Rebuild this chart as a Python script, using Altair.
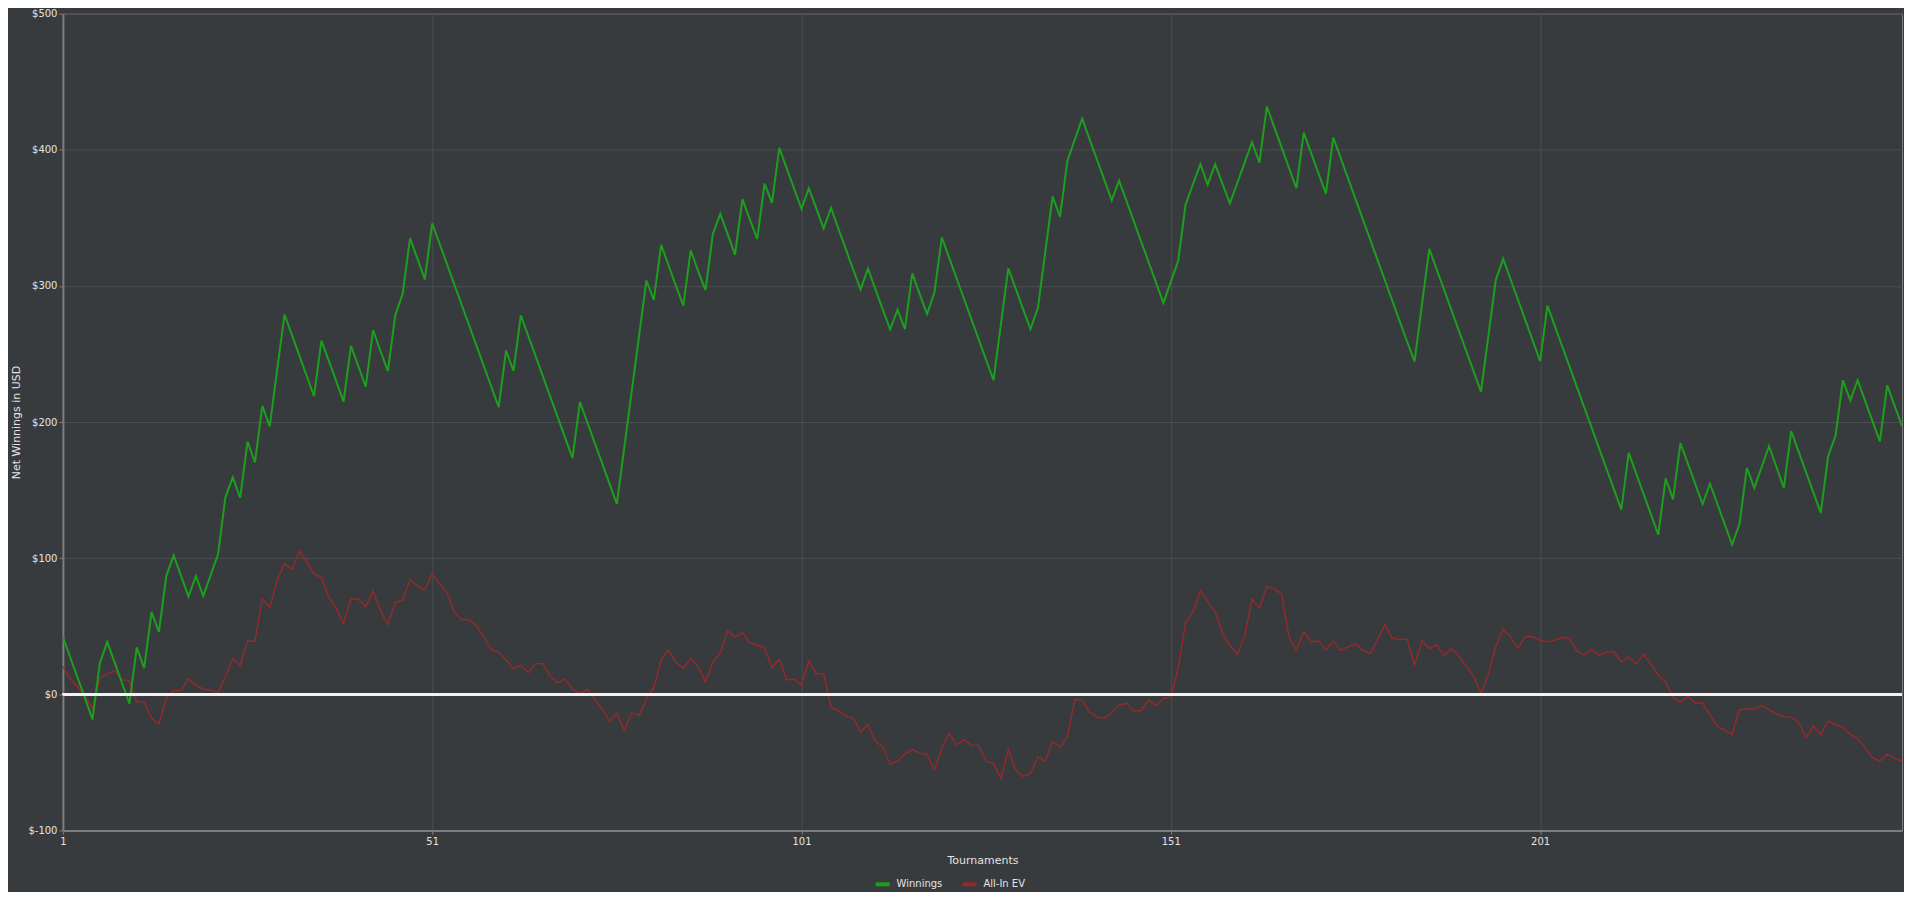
import altair as alt
import pandas as pd

# Tournament numbers 1..250
tournaments = list(range(1, 251))

winnings = [
    42.2, 27, 12, -3, -18.4, 22.8, 38.5, 23.4, 8.3, -6.8,
    34.4, 19.2, 60.4, 45.8, 87, 102, 87, 71.8, 87, 72.2,
    87.5, 102.8, 144.7, 159.3, 144.5, 185.7, 170.4, 211.9, 196.8, 238,
    279, 264, 249, 234, 219, 259.8, 245, 230, 215, 256,
    241, 226, 267.5, 252, 237.5, 278.4, 294.2, 335, 320, 304.8,
    346, 331, 316, 301, 286, 271, 256, 241, 226, 211,
    252.5, 237.5, 278.4, 263.4, 248.4, 233.4, 218.4, 203.4, 188.4, 173.5,
    214.8, 199.8, 184.8, 169.8, 154.8, 139.8, 181, 222, 263, 304,
    289.7, 330.2, 315, 300, 285.5, 326.2, 311, 296.9, 338.2, 353,
    338, 323, 363.8, 349, 334.5, 375.2, 361, 401.4, 386.4, 371.4,
    356.7, 371.8, 357, 342.2, 357.3, 342, 327, 312, 297.5, 312.7,
    297.7, 282.7, 268, 282.5, 268.3, 309.2, 294, 279.4, 295.2, 335.6,
    320.6, 305.6, 290.6, 275.6, 260.6, 245.6, 230.8, 272, 313, 298,
    283, 268.3, 283.5, 324.6, 365.7, 350.8, 392, 407.4, 422.9, 407.9,
    392.9, 377.9, 362.8, 377.4, 362.4, 347.4, 332.4, 317.4, 302.4, 287.5,
    303, 318.5, 359.7, 374.7, 389.4, 374.4, 389.4, 375, 360.6, 375.6,
    390.6, 405.6, 390.6, 431.8, 416.8, 401.8, 386.8, 371.8, 412.6, 397.6,
    382.6, 367.8, 409, 394, 379, 364, 349, 334, 319, 304,
    289, 274, 259, 244.6, 286, 327.2, 312.2, 297.2, 282.2, 267.2,
    252.2, 237.2, 222.3, 263.4, 304.3, 319.9, 304.9, 289.9, 274.9, 259.9,
    244.7, 285.5, 270.5, 255.5, 240.5, 225.5, 210.5, 195.5, 180.5, 165.5,
    150.5, 135.7, 177.3, 162.3, 147.3, 132.3, 117.2, 158.4, 143.4, 184.6,
    169.6, 154.6, 139.7, 154.8, 139.8, 124.8, 110, 125.2, 166.4, 151.6,
    167, 182.2, 167, 151.6, 193.3, 178.3, 163.3, 148.3, 133.2, 174.9,
    190, 230.7, 215.9, 230.7, 215.7, 200.7, 185.8, 226.9, 211.9, 197.2,
]

allin_ev = [
    20.4, 11.2, 5.3, -1, -10.7, 11.9, 15, 17.2, 10.7, 9.9,
    -5.6, -5.6, -17.7, -21.8, -2.7, 2.7, 2.7, 11.4, 6.5, 3.9,
    2.9, 1.5, 13.1, 25.9, 21.3, 39, 39, 70, 64, 83.4,
    96, 91.9, 105.2, 97, 88.4, 85.7, 71, 63.3, 52.1, 70.5,
    69.8, 64.5, 75.9, 61.3, 51.2, 67.4, 69.1, 84.4, 79.5, 76.6,
    88.5, 81.2, 74.7, 60.1, 54.8, 54.8, 50.4, 41.9, 32.7, 31,
    25, 18.9, 21.3, 15.8, 22.5, 22.5, 12.8, 8.5, 10.9, 3.7,
    0.6, 3.4, -3.7, -10.8, -19.9, -14.2, -26.5, -13.7, -15.7, -3.7,
    4.8, 25.4, 32.5, 23.4, 19.1, 26.2, 20.5, 9.1, 23.4, 30.5,
    46.7, 41.9, 45.3, 37.6, 36.2, 34.2, 19.7, 25.6, 10.5, 11.1,
    6.8, 24.8, 15.1, 14.8, -9.5, -12.1, -15.9, -17.5, -27.6, -22.2,
    -34.3, -38.7, -51.4, -49.2, -43.8, -40.6, -43.2, -44.4, -55.6, -39.7,
    -28.6, -37.1, -33.3, -37.5, -37.5, -49.2, -50.8, -61.9, -40.6, -55.6,
    -60.3, -58.1, -46, -49.2, -34.9, -38.7, -31.1, -3.8, -3.9, -13.2,
    -16.8, -17.4, -13.8, -7.9, -6.5, -12.1, -12.1, -4.4, -8.5, -2.9,
    -2.1, 19.4, 52.4, 60.6, 76.2, 67.9, 60.6, 44.4, 36.2, 29.1,
    42.9, 70, 63.5, 79.1, 77.6, 73.8, 42.1, 32.6, 45.9, 38.5,
    39.4, 32.6, 39.1, 32.3, 34.8, 37.1, 32.3, 30.1, 40.3, 51.1,
    41.1, 40.3, 40.3, 21.5, 39.5, 33.6, 36.3, 28.2, 33.6, 28.2,
    20.7, 13.4, 0.5, 14.8, 34.9, 47.8, 42.2, 33.6, 42.5, 42.5,
    39.5, 38.7, 39.8, 41.7, 41.1, 31.7, 29, 32.8, 28.5, 31,
    31.2, 23.9, 27.5, 22.2, 29.5, 22.2, 14.2, 8.6, -2.1, -5.9,
    -1.6, -6.4, -6.4, -14.9, -23.4, -26.3, -29.5, -11.3, -10.8, -10.8,
    -8.4, -11.3, -14.4, -16.8, -16.8, -20.5, -31.9, -23.4, -29.5, -19.8,
    -22.2, -24.1, -29.5, -32.6, -39.2, -46.4, -49.1, -44, -46.9, -49.3,
]

series_names = ["Winnings", "All-In EV"]
series_colors = ["#1c9f1c", "#972929"]
x_tick_values = [1, 51, 101, 151, 201]
y_tick_values = [-100, 0, 100, 200, 300, 400, 500]

df_win = pd.DataFrame({"t": tournaments, "v": winnings, "s": "Winnings"})
df_ev = pd.DataFrame({"t": tournaments, "v": allin_ev, "s": "All-In EV"})

BG = "#383b3e"
TXT = "#e4e4e4"
GRID = "#4b4e52"
FRAME = "#7d7d7d"
FONT = "DejaVu Sans"

x_enc = alt.X(
    "t:Q",
    scale=alt.Scale(domain=[1, 250], nice=False, zero=False),
    axis=alt.Axis(
        values=x_tick_values, title="Tournaments", format="d",
        grid=True, gridColor=GRID, domainColor=FRAME, domainWidth=2,
        tickColor=FRAME, tickSize=4, labelColor=TXT, labelFont=FONT,
        labelFontSize=10, labelPadding=2, titleColor=TXT, titleFont=FONT,
        titleFontSize=11, titleFontWeight="normal", titlePadding=8,
        labelFlush=False,
    ),
)
y_scale = alt.Scale(domain=[-100, 500], nice=False, zero=False)
y_axis = alt.Axis(
    values=y_tick_values, title="Net Winnings in USD",
    labelExpr="'$' + datum.value",
    grid=True, gridColor=GRID, domainColor=FRAME, domainWidth=2,
    tickColor=FRAME, tickSize=4, labelColor=TXT, labelFont=FONT,
    labelFontSize=10, labelPadding=2, titleColor=TXT, titleFont=FONT,
    titleFontSize=11, titleFontWeight="normal", titleX=-46,
    titleY=409, titleBaseline="middle", titleAngle=270,
)
color_enc = alt.Color(
    "s:N",
    scale=alt.Scale(domain=series_names, range=series_colors),
    legend=alt.Legend(
        title=None, orient="none", direction="horizontal",
        legendX=812, legendY=863, symbolType="stroke", symbolSize=196,
        symbolStrokeWidth=4, labelColor=TXT, labelFont=FONT,
        labelFontSize=10, labelOffset=5, columnPadding=12,
    ),
)

ev_line = alt.Chart(df_ev).mark_line(strokeWidth=1.4).encode(
    x=x_enc, y=alt.Y("v:Q", scale=y_scale, axis=y_axis), color=color_enc
)
win_line = alt.Chart(df_win).mark_line(strokeWidth=2).encode(
    x=x_enc, y=alt.Y("v:Q", scale=y_scale, axis=y_axis), color=color_enc
)
zero_rule = alt.Chart(df_win).mark_rule(color="#f2f2f2", strokeWidth=2).encode(
    y=alt.datum(0)
)

chart = alt.layer(ev_line, win_line, zero_rule).properties(
    width=1842,
    height=818,
    background=BG,
    autosize=alt.AutoSizeParams(type="none"),
    padding={"left": 55, "top": 5, "right": 2, "bottom": 61},
).configure_view(
    fill=BG, stroke=FRAME, strokeWidth=1
).configure_legend(
    symbolStrokeWidth=4
)

chart.save("out.html", embed_options={"renderer": "svg", "actions": False})
